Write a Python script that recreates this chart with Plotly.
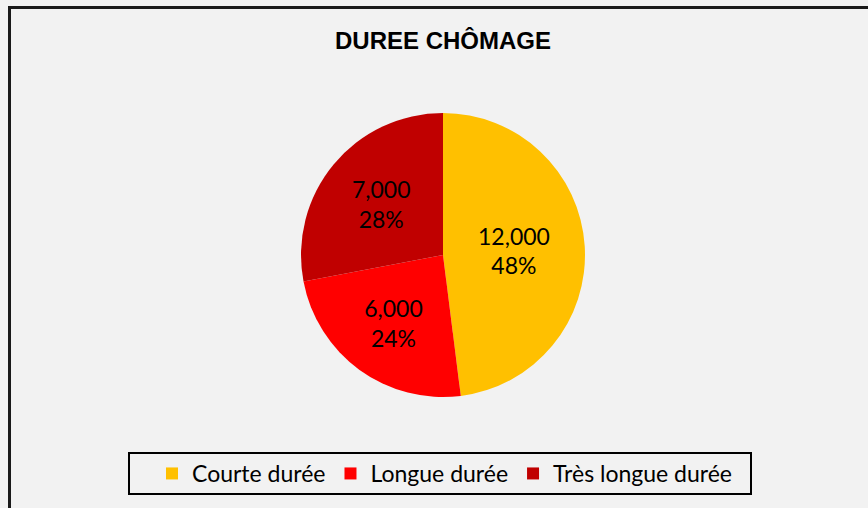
import plotly.graph_objects as go

categories = ["Courte durée", "Longue durée", "Très longue durée"]
values = [12000, 6000, 7000]
colors = ["#FFC000", "#FF0000", "#C00000"]
title_text = "DUREE CHÔMAGE"

W, H = 868, 508
cx, cy, r = 443, 255, 142

fig = go.Figure(go.Pie(
    labels=categories,
    values=values,
    sort=False,
    direction="clockwise",
    rotation=0,
    marker=dict(colors=colors, line=dict(width=0)),
    texttemplate="%{value:,}<br>%{percent:.0%}",
    textposition="inside",
    insidetextorientation="horizontal",
    textfont=dict(family="Lato", size=23, color="black"),
    domain=dict(x=[(cx - r) / W, (cx + r) / W], y=[1 - (cy + r) / H, 1 - (cy - r) / H]),
    hoverinfo="label+value+percent",
))

fig.update_layout(
    width=W, height=H,
    margin=dict(l=0, r=0, t=0, b=0),
    paper_bgcolor="#F2F2F2",
    plot_bgcolor="#F2F2F2",
    title=dict(text="<b>" + title_text + "</b>", x=443 / W, xanchor="center",
               y=1 - 41 / H, yanchor="middle",
               font=dict(family="Arial", size=24, color="black")),
    legend=dict(orientation="h", x=152 / W, xanchor="left", y=1 - 473.5 / H, yanchor="middle",
                bgcolor="rgba(0,0,0,0)", borderwidth=0,
                font=dict(family="Lato", size=23, color="black")),
    shapes=[
        dict(type="rect", xref="paper", yref="paper",
             x0=9.5 / W, y0=-0.05, x1=1.05, y1=1 - 7.5 / H,
             line=dict(color="#1a1a1a", width=3), layer="above"),
        dict(type="rect", xref="paper", yref="paper",
             x0=129 / W, y0=1 - 494 / H, x1=751 / W, y1=1 - 453 / H,
             line=dict(color="black", width=2), layer="below"),
    ],
)

fig.write_html("out.html", config={"displayModeBar": False},
               post_script="document.body.style.margin='0';document.body.style.background='#F2F2F2';")
